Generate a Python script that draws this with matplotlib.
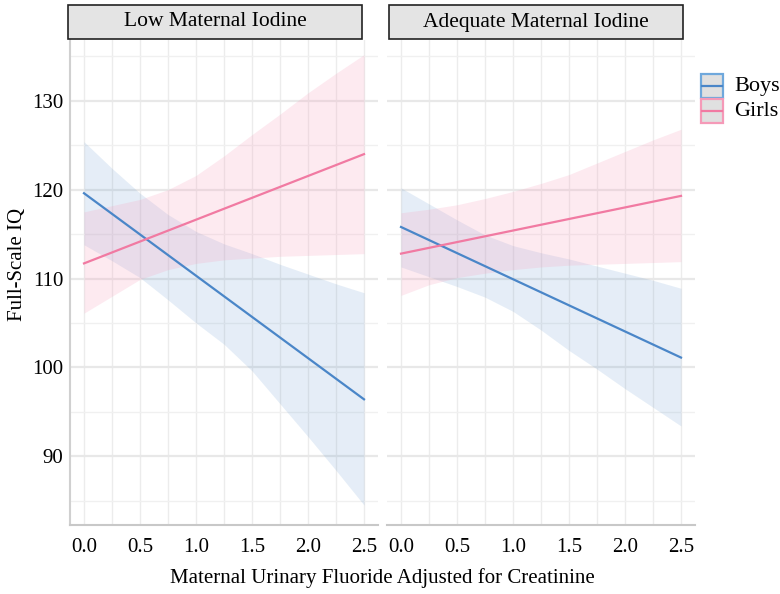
import matplotlib
matplotlib.use("Agg")
import matplotlib.pyplot as plt
from matplotlib.patches import Rectangle
from matplotlib.lines import Line2D
import numpy as np

plt.rcParams['font.family'] = ['Liberation Serif', 'DejaVu Serif']

# ---- data ----
panels = ["Low Maternal Iodine", "Adequate Maternal Iodine"]
groups = ["Boys", "Girls"]
x_line = [0.0, 2.5]
x_ci = [0.0, 0.25, 0.5, 0.75, 1.0, 1.25, 1.5, 1.75, 2.0, 2.25, 2.5]

# Low maternal iodine
low_boys_line = [119.6, 96.4]
low_boys_upper = [125.4, 122.4, 119.6, 117.2, 115.3, 113.9, 112.8, 111.6, 110.5, 109.4, 108.4]
low_boys_lower = [113.8, 112.0, 110.1, 107.6, 105.0, 102.6, 99.6, 95.9, 92.2, 88.4, 84.5]
low_girls_line = [111.7, 124.0]
low_girls_upper = [117.5, 118.2, 118.9, 120.0, 121.6, 123.8, 126.2, 128.5, 130.9, 133.1, 135.2]
low_girls_lower = [106.1, 108.0, 109.9, 111.0, 111.7, 112.1, 112.3, 112.5, 112.6, 112.7, 112.8]

# Adequate maternal iodine
adq_boys_line = [115.8, 101.1]
adq_boys_upper = [120.2, 118.4, 116.6, 114.9, 113.7, 112.9, 112.2, 111.4, 110.6, 109.8, 108.9]
adq_boys_lower = [111.3, 110.2, 109.1, 107.9, 106.3, 104.2, 101.9, 99.8, 97.6, 95.5, 93.4]
adq_girls_line = [112.8, 119.3]
adq_girls_upper = [117.4, 117.8, 118.3, 119.0, 119.8, 120.7, 121.7, 123.0, 124.3, 125.6, 126.8]
adq_girls_lower = [108.1, 109.3, 110.1, 110.6, 111.0, 111.3, 111.5, 111.6, 111.7, 111.8, 111.9]

x_ticks = [0.0, 0.5, 1.0, 1.5, 2.0, 2.5]
x_ticklabels = ["0.0", "0.5", "1.0", "1.5", "2.0", "2.5"]
y_ticks = [90, 100, 110, 120, 130]
y_ticklabels = ["90", "100", "110", "120", "130"]

blue = "#4a86c8"
pink = "#f17aa2"
blue_fill = "#4a86c8"
pink_fill = "#f8a0bd"

W, H = 780, 594
fig = plt.figure(figsize=(W / 100, H / 100), dpi=100)

def fx(px):
    return px / W

def fy(py):
    return 1 - py / H

ax1 = fig.add_axes([fx(70), fy(525), fx(378) - fx(70), fy(40) - fy(525)])
ax2 = fig.add_axes([fx(387), fy(525), fx(695) - fx(387), fy(40) - fy(525)])

data = [
    (ax1, low_boys_line, low_boys_upper, low_boys_lower, low_girls_line, low_girls_upper, low_girls_lower),
    (ax2, adq_boys_line, adq_boys_upper, adq_boys_lower, adq_girls_line, adq_girls_upper, adq_girls_lower),
]

for i, (ax, bl, bu, blo, gl, gu, glo) in enumerate(data):
    ax.set_facecolor("white")
    ax.set_xlim(-0.125, 2.625)
    ax.set_ylim(82.25, 136.85)
    # grid
    for xv in np.arange(0, 2.51, 0.25):
        ax.axvline(xv, color="#ececec", lw=1.0, zorder=0)
    for yv in np.arange(85, 136, 5):
        major = (yv % 10 == 0)
        ax.axhline(yv, color="#e8e8e8" if major else "#f0f0f0",
                   lw=1.6 if major else 1.0, zorder=0)
    ax.fill_between(x_ci, blo, bu, color=blue_fill, alpha=0.14, lw=0, zorder=1)
    ax.fill_between(x_ci, glo, gu, color=pink_fill, alpha=0.22, lw=0, zorder=1)
    ax.plot(x_line, bl, color=blue, lw=1.6, zorder=3)
    ax.plot(x_line, gl, color=pink, lw=1.6, zorder=3)

    ax.set_xticks(x_ticks)
    ax.set_xticklabels(x_ticklabels, fontsize=15)
    ax.tick_params(axis="x", length=0, pad=9)
    for s in ["top", "right"]:
        ax.spines[s].set_visible(False)
    ax.spines["bottom"].set_color("#c8c8c8")
    ax.spines["bottom"].set_linewidth(1.5)
    if i == 0:
        ax.set_yticks(y_ticks)
        ax.set_yticklabels(y_ticklabels, fontsize=15)
        ax.tick_params(axis="y", length=0, pad=5)
        ax.spines["left"].set_color("#d0d0d0")
        ax.spines["left"].set_linewidth(1.5)
    else:
        ax.set_yticks(y_ticks)
        ax.set_yticklabels([])
        ax.tick_params(axis="y", length=0)
        ax.spines["left"].set_visible(False)

# strips
strips = [(68, 362), (389, 683)]
for (x0, x1), title in zip(strips, panels):
    rect = Rectangle((fx(x0), fy(39)), fx(x1) - fx(x0), fy(5) - fy(39),
                     transform=fig.transFigure, facecolor="#e4e4e4",
                     edgecolor="#222222", lw=1.2)
    fig.add_artist(rect)
    fig.text(fx((x0 + x1) / 2), fy(22), title, ha="center", va="center", fontsize=15.5)

# axis labels
fig.text(fx(382), fy(578), "Maternal Urinary Fluoride Adjusted for Creatinine",
         ha="center", va="center", fontsize=15)
fig.text(fx(18), fy(264), "Full-Scale IQ", ha="center", va="center",
         rotation=90, fontsize=15)

# legend
leg_items = [(groups[0], blue, "#6fa8dc", 74), (groups[1], pink, "#f59ab8", 99)]
for label, lc, ec, top in leg_items:
    rect = Rectangle((fx(701), fy(top + 24)), fx(723) - fx(701), fy(top) - fy(top + 24),
                     transform=fig.transFigure, facecolor="#e0e0e0",
                     edgecolor=ec, lw=1.6)
    fig.add_artist(rect)
    fig.add_artist(Line2D([fx(702), fx(722)], [fy(top + 12), fy(top + 12)],
                          transform=fig.transFigure, color=lc, lw=1.6))
    fig.text(fx(734), fy(top + 12), label, ha="left", va="center", fontsize=16)

fig.savefig("out.png", dpi=100)
